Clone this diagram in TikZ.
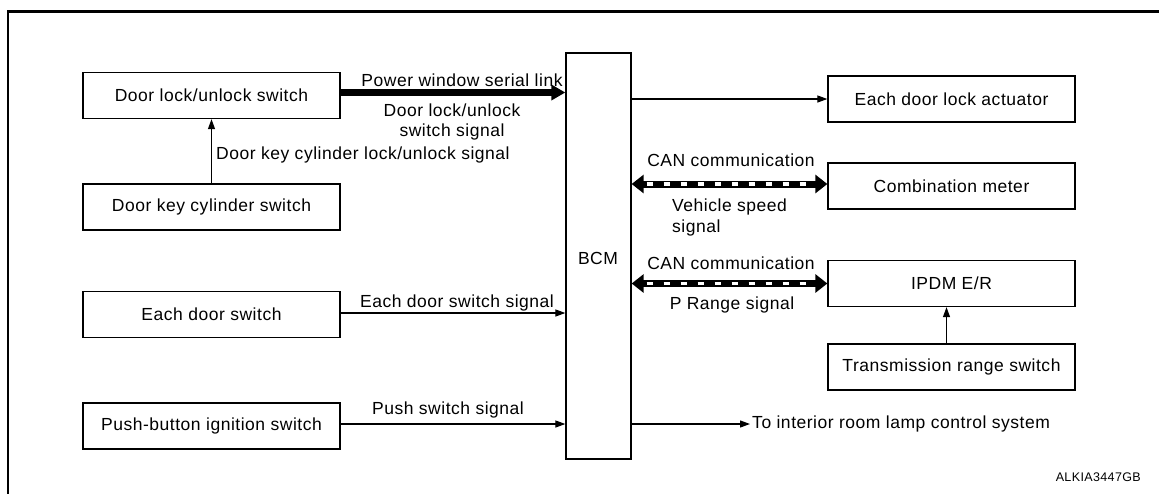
\documentclass[tikz,border=0pt]{standalone}
\usepackage{fontspec}
\setmainfont[LetterSpace=3]{Liberation Sans}
\usepackage{tikz}
\usetikzlibrary{positioning,arrows.meta,calc}

\begin{document}
\begin{tikzpicture}[
  x=1pt, y=-1pt,
  font=\fontsize{17.5}{20.5}\selectfont,
  unit/.style={rectangle, draw, line width=1.3pt, minimum height=46pt, inner sep=0pt},
  leftunit/.style={unit, minimum width=257pt},
  rightunit/.style={unit, minimum width=247pt},
  lbl/.style={inner sep=0pt, align=center},
  sig/.style={line width=1.2pt, -{Triangle[width=7pt,length=10pt]}},
  serial/.style={line width=7pt, -{Triangle[width=15pt,length=14pt]}},
  can/.style={line width=7pt, {Triangle[width=18pt,length=12pt]}-{Triangle[width=18pt,length=12pt]},
              postaction={draw=white, line width=3.5pt, dash pattern=on 6pt off 11pt,
                          shorten <=15pt, shorten >=15pt, -}}
]
  \useasboundingbox (0,0) rectangle (1159,493);
  % outer frame
  \draw[line width=2.7pt] (8,500) -- (8,11.5) -- (1170,11.5);

  % control unit
  \node[unit, minimum width=65pt, minimum height=406pt] (bcm) at (598.5,256) {};
  \node[lbl] (bcmtxt) at (598,258) {BCM};

  % inputs
  \node[leftunit] (dls) at (211.5,95.5) {Door lock/unlock switch};
  \node[leftunit] (dkc) at (211.5,207) {Door key cylinder switch};
  \node[leftunit] (eds) at (211.5,314.5) {Each door switch};
  \node[leftunit] (pbs) at (211.5,426) {Push-button ignition switch};

  % outputs
  \node[rightunit] (act) at (951.5,99) {Each door lock actuator};
  \node[rightunit] (meter) at (951.5,186) {Combination meter};
  \node[rightunit] (ipdm) at (951.5,283.5) {IPDM E/R};
  \node[rightunit] (trs) at (951.5,367) {Transmission range switch};
  \node[lbl, anchor=west] (lamp) at (752,424) {To interior room lamp control system};

  % connectors
  \draw[serial] ([yshift=3pt]dls.east) -- ([yshift=3pt]dls.east -| bcm.west);
  \draw[sig] (dkc.north) -- (dls.south);
  \draw[sig] ([yshift=1.5pt]eds.east) -- ([yshift=1.5pt]eds.east -| bcm.west);
  \draw[sig] ([yshift=2pt]pbs.east) -- ([yshift=2pt]pbs.east -| bcm.west);
  \draw[sig] (bcm.east |- act.west) -- (act.west);
  \draw[can] ([yshift=2pt]bcm.east |- meter.west) -- ([yshift=2pt]meter.west);
  \draw[can] (bcm.east |- ipdm.west) -- (ipdm.west);
  \draw[sig] ([xshift=-5pt]trs.north) -- ([xshift=-5pt]ipdm.south);
  \draw[sig] (bcm.east |- lamp.west) -- ([xshift=-2pt]lamp.west);

  % labels
  \node[lbl] (pwl) at (462,80) {Power window serial link};
  \node[lbl] (dlsig) at (452,122) {Door lock/unlock\\switch signal};
  \node[lbl, anchor=west] (dkcsig) at (216,155) {Door key cylinder lock/unlock signal};
  \node[lbl] (edsig) at (457,303) {Each door switch signal};
  \node[lbl] (pbsig) at (448,410) {Push switch signal};
  \node[lbl] (can1) at (731,160) {CAN communication};
  \node[lbl, align=left, anchor=west] (vss) at (672,217.5) {Vehicle speed\\signal};
  \node[lbl] (can2) at (731,263) {CAN communication};
  \node[lbl] (prs) at (732,305) {P Range signal};
  \node[lbl, anchor=east, font=\fontsize{12.5}{15}\selectfont] (code) at (1141,477) {ALKIA3447GB};
\end{tikzpicture}
\end{document}
